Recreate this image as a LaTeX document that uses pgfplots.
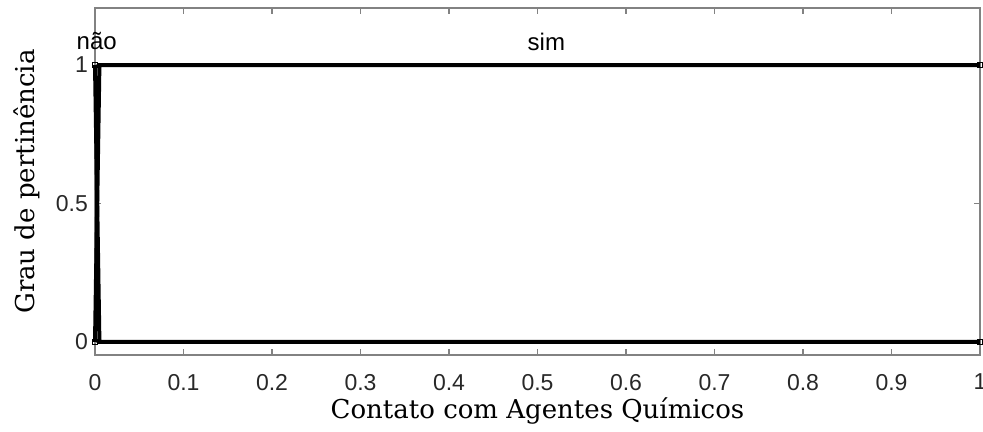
\documentclass[border=0pt]{standalone}
\usepackage{pgfplots}
\pgfplotsset{compat=1.18}
\usepackage{fontspec}
\setmainfont{Liberation Sans}
\newfontfamily\labfont{DejaVu Serif}

\definecolor{axgray}{RGB}{130,130,130}
\definecolor{ticktext}{RGB}{40,40,40}

\begin{document}
\begin{tikzpicture}
\begin{axis}[
    at={(0,0)}, anchor=south west,
    scale only axis,
    width=442.5pt, height=173.5pt,
    xmin=0, xmax=1, ymin=-0.047, ymax=1.206,
    xtick={0,0.1,...,1.0},
    xticklabels={0,0.1,0.2,0.3,0.4,0.5,0.6,0.7,0.8,0.9,1},
    ytick={0,0.5,1},
    yticklabels={0,0.5,1},
    tick align=inside,
    major tick length=3pt,
    axis line style={axgray, line width=1.2pt},
    every tick/.style={axgray, line width=0.8pt},
    tick label style={font=\fontsize{11.5}{13}\selectfont, text=ticktext},
    xticklabel style={yshift=-6pt},
    /pgf/number format/assume math mode=true,
    xlabel={\labfont\fontsize{13}{15}\selectfont Contato com Agentes Químicos},
    ylabel={\labfont\fontsize{13}{15}\selectfont Grau de pertinência},
    xlabel style={at={(axis description cs:0.5,0)}, anchor=center, yshift=-28pt},
    ylabel style={at={(axis description cs:0,0.5)}, anchor=center, yshift=34pt},
    clip=false,
]
\addplot[black, line width=2pt, mark=square, mark size=1.3pt, mark options={line width=0.6pt}, mark indices={1,3}]
    coordinates {(0,1) (0.005,0) (1,0)};
\addplot[black, line width=2pt, mark=square, mark size=1.3pt, mark options={line width=0.6pt}, mark indices={1,3}]
    coordinates {(0,0) (0.005,1) (1,1)};
\node[font=\fontsize{12}{14}\selectfont, text=black] at (axis cs:0.002,1.085) {não};
\node[font=\fontsize{12}{14}\selectfont, text=black] at (axis cs:0.51,1.085) {sim};
\end{axis}
\pgfresetboundingbox
\path[use as bounding box] (-47.5pt,-38.5pt) rectangle (444pt,177.5pt);
\end{tikzpicture}
\end{document}
